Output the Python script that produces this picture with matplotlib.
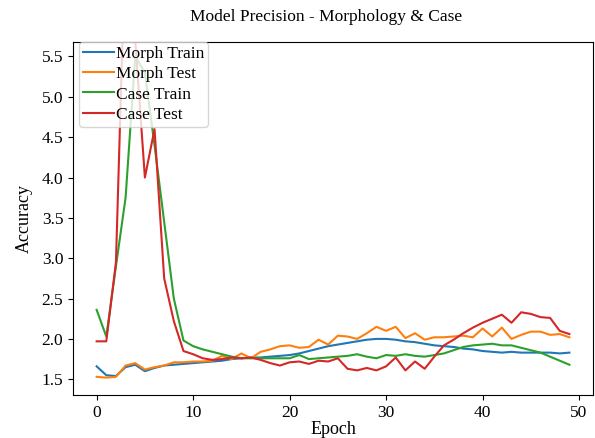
# Plot presisi model - morfologi & case per epoch

import numpy as np
import matplotlib
matplotlib.use('Agg')
import matplotlib.pyplot as plt

# ----- Data -----
epoch = np.arange(50)

morph_train = [1.66, 1.55, 1.54, 1.65, 1.68, 1.60, 1.64, 1.67, 1.68, 1.69,
               1.70, 1.71, 1.72, 1.73, 1.75, 1.76, 1.77, 1.77, 1.78, 1.79,
               1.80, 1.82, 1.85, 1.88, 1.91, 1.93, 1.95, 1.97, 1.99, 2.00,
               2.00, 1.99, 1.97, 1.96, 1.94, 1.92, 1.91, 1.90, 1.88, 1.87,
               1.85, 1.84, 1.83, 1.84, 1.83, 1.83, 1.83, 1.83, 1.82, 1.83]

morph_test = [1.53, 1.52, 1.53, 1.67, 1.70, 1.62, 1.65, 1.67, 1.71, 1.71,
              1.72, 1.72, 1.73, 1.79, 1.75, 1.82, 1.76, 1.84, 1.87, 1.91,
              1.92, 1.89, 1.90, 1.99, 1.93, 2.04, 2.03, 2.00, 2.07, 2.15,
              2.10, 2.15, 2.01, 2.07, 1.99, 2.02, 2.02, 2.03, 2.04, 2.02,
              2.13, 2.03, 2.14, 2.00, 2.05, 2.09, 2.09, 2.05, 2.06, 2.02]

case_train = [2.36, 2.03, 2.90, 3.75, 5.50, 5.30, 4.40, 3.45, 2.50, 1.98,
              1.91, 1.87, 1.84, 1.81, 1.78, 1.76, 1.76, 1.76, 1.76, 1.76,
              1.76, 1.80, 1.75, 1.76, 1.77, 1.78, 1.79, 1.81, 1.78, 1.76,
              1.80, 1.79, 1.81, 1.79, 1.78, 1.80, 1.82, 1.86, 1.90, 1.92,
              1.93, 1.94, 1.92, 1.92, 1.89, 1.86, 1.83, 1.78, 1.73, 1.68]

case_test = [1.97, 1.97, 2.95, 7.00, 5.70, 4.00, 4.60, 2.75, 2.22, 1.85,
             1.81, 1.76, 1.74, 1.75, 1.77, 1.76, 1.77, 1.74, 1.70, 1.67,
             1.71, 1.72, 1.69, 1.73, 1.72, 1.76, 1.63, 1.61, 1.64, 1.61,
             1.66, 1.77, 1.61, 1.72, 1.63, 1.78, 1.92, 1.99, 2.07, 2.14,
             2.20, 2.25, 2.30, 2.20, 2.33, 2.31, 2.27, 2.26, 2.10, 2.06]

# ----- Plot -----
plt.rcParams['font.family'] = ['Liberation Serif', 'DejaVu Serif']

fig = plt.figure(figsize=(5.95, 4.38), dpi=100)
ax = fig.add_axes([0.1227, 0.0982, 0.874, 0.806])

ax.plot(epoch, morph_train, label='Morph Train')
ax.plot(epoch, morph_test, label='Morph Test')
ax.plot(epoch, case_train, label='Case Train')
ax.plot(epoch, case_test, label='Case Test')

ax.set_ylim(1.305, 5.68)
ax.set_yticks([1.5, 2.0, 2.5, 3.0, 3.5, 4.0, 4.5, 5.0, 5.5])
ax.set_xticks([0, 10, 20, 30, 40, 50])
ax.tick_params(labelsize=12.5)

# Atur penamaan label
ax.set_title('Model Precision - Morphology & Case', fontsize=12.5, pad=15, x=0.486)
ax.set_xlabel('Epoch', fontsize=13, labelpad=0.5)
ax.set_ylabel('Accuracy', fontsize=13, labelpad=6)
ax.legend(loc='upper left', bbox_to_anchor=(0.012, 1.0), borderaxespad=0,
          fontsize=12.5, labelspacing=0.25, borderpad=0.2,
          handlelength=1.8, handletextpad=0.1)

fig.savefig('out.png', dpi=100)
